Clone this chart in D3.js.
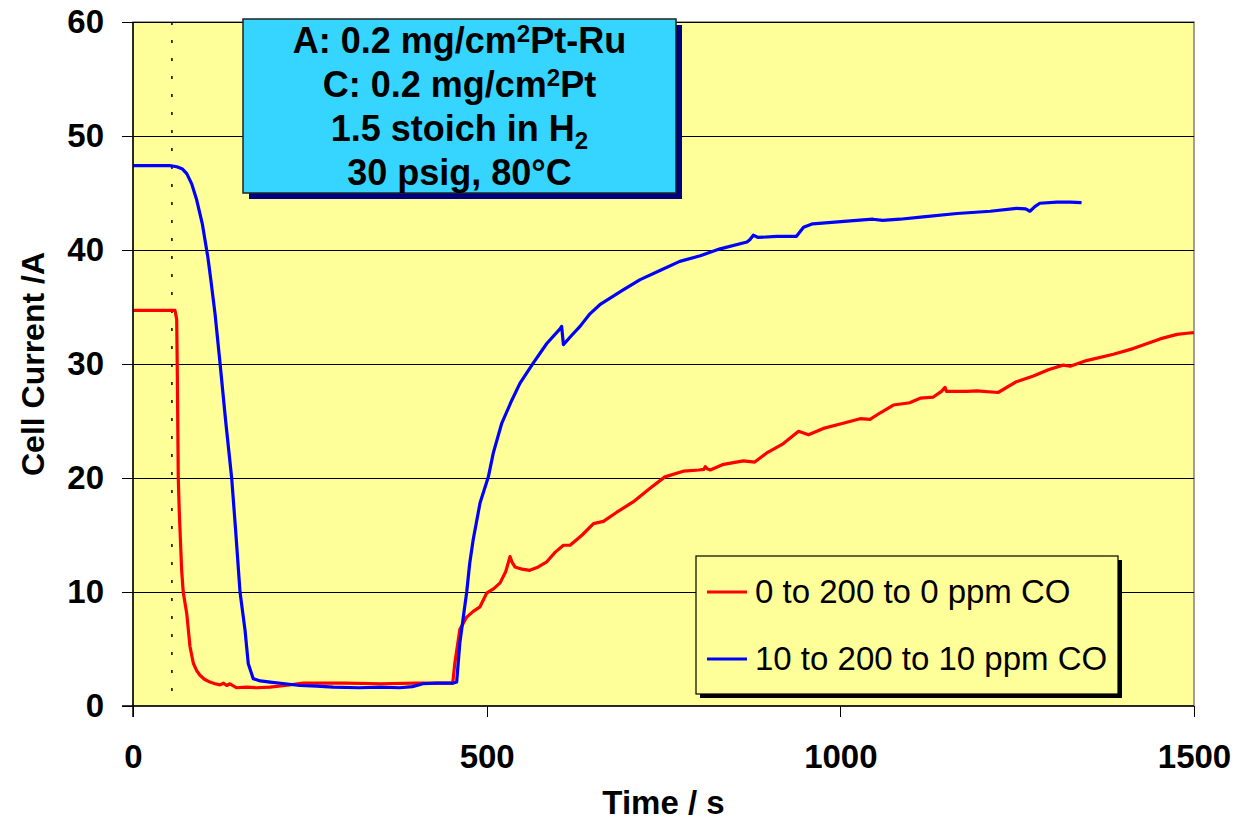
<!DOCTYPE html>
<html>
<head>
<meta charset="utf-8">
<script src="https://cdn.jsdelivr.net/npm/d3@7"></script>
<style>
  body { margin: 0; background: #ffffff; }
  svg { display: block; font-family: "Liberation Sans", Arial, sans-serif; }
</style>
</head>
<body>
<div id="chart"></div>
<script>
const ANCHO = 1235;
const ALTO = 824;

// [time s, current A]
const serieRoja = [
    [0, 34.7], [59.4, 34.7], [61.8, 33.9], [62.5, 30.1], [64, 20.0], [65.5, 16.9], [68.8, 11.9],
    [71, 10.0], [76, 8.1], [80.6, 5.2], [85.3, 3.75], [90, 3.1], [94.7, 2.7], [101, 2.35],
    [108.9, 2.1], [116, 1.95], [123, 1.85], [128, 2.0], [132.5, 1.8], [137, 1.95], [146.6, 1.6],
    [160, 1.65], [175, 1.6], [193.7, 1.65], [215, 1.8], [240.8, 2.0], [300, 2.0], [350, 1.95],
    [400, 2.0], [452, 2.0], [455, 3.75], [462, 6.7], [471.8, 7.8], [481, 8.3], [490.6, 8.7],
    [500, 9.9], [510, 10.3], [519, 10.8], [527, 11.8], [533, 13.1], [536, 12.6], [540, 12.2],
    [550, 12.0], [561, 11.9], [573, 12.2], [585, 12.65], [597, 13.5], [608.5, 14.1], [618, 14.1],
    [635, 15.0], [651, 16.0], [665, 16.2], [684, 17.0], [707, 17.9], [731, 19.1], [752, 20.1],
    [778, 20.6], [800, 20.7], [807, 20.75], [809, 21.0], [812, 20.8], [816, 20.7], [835, 21.2],
    [863, 21.5], [879, 21.4], [896, 22.2], [919, 23.0], [941, 24.1], [955, 23.8], [976, 24.35],
    [1004, 24.8], [1028, 25.2], [1042, 25.15], [1056, 25.7], [1075, 26.4], [1098, 26.6],
    [1113, 27.0], [1131.5, 27.1], [1143, 27.6], [1148, 27.95], [1150, 27.6], [1179, 27.6],
    [1193, 27.65], [1223, 27.5], [1249, 28.45], [1273, 28.95], [1294, 29.5], [1315, 29.9],
    [1325, 29.8], [1348, 30.3], [1386, 30.85], [1414, 31.35], [1452, 32.2], [1476, 32.6],
    [1490, 32.7], [1500, 32.75]
];

const serieAzul = [
    [0, 47.4], [52, 47.4], [62, 47.3], [70, 47.1], [76, 46.7], [83, 45.8], [90, 44.4],
    [98, 42.3], [106, 39.3], [110, 37.4], [116, 34.4], [123, 30.1], [131, 25.0], [139.5, 20.0],
    [145, 15.5], [151.3, 10.0], [158.3, 6.7], [163, 3.7], [170, 2.4], [180, 2.2], [194, 2.1],
    [215, 1.95], [236, 1.8], [260, 1.75], [283, 1.65], [320, 1.6], [350, 1.65], [377, 1.6],
    [395, 1.7], [410, 1.95], [430, 2.0], [452, 2.0], [457.6, 2.1], [462, 5.5], [467, 7.8],
    [471.8, 10.0], [476, 12.5], [481, 14.6], [490.6, 17.8], [502.4, 20.1], [509.4, 22.2],
    [521.3, 24.8], [535.4, 26.8], [547, 28.3], [566, 30.1], [585, 31.8], [604, 33.1],
    [606, 33.3], [608.5, 31.7], [620, 32.5], [632, 33.3], [646, 34.4], [660, 35.2], [693, 36.5],
    [717, 37.4], [745, 38.2], [773, 39.0], [802, 39.5], [830, 40.1], [868, 40.7], [872, 40.9],
    [877, 41.3], [884, 41.1], [910, 41.2], [938, 41.2], [943, 41.6], [948, 42.0], [961, 42.3],
    [1023, 42.6], [1046, 42.7], [1060, 42.6], [1084, 42.7], [1117, 42.9], [1165, 43.2],
    [1212, 43.4], [1249, 43.65], [1262, 43.6], [1268, 43.4], [1275, 43.8], [1282, 44.1],
    [1306, 44.2], [1325, 44.2], [1341, 44.15]
];

const ticksX = [0, 500, 1000, 1500];
const ticksY = [0, 10, 20, 30, 40, 50, 60];
const tiempoCambioCO = 55;
const leyenda = ["0 to 200 to 0 ppm CO", "10 to 200 to 10 ppm CO"];
const coloresSerie = ["#ff0000", "#0000ff"];

const IZQ = 133, DER = 1194, ARRIBA = 22, ABAJO = 706;

const x = d3.scaleLinear().domain([0, 1500]).range([IZQ, DER]);
const y = d3.scaleLinear().domain([0, 60]).range([ABAJO, ARRIBA]);

const $svg = d3.select("#chart")
    .append("svg")
    .attr("width", ANCHO)
    .attr("height", ALTO);

// fondo del area de trazado
$svg.append("rect")
    .attr("x", IZQ).attr("y", ARRIBA)
    .attr("width", DER - IZQ).attr("height", ABAJO - ARRIBA)
    .attr("fill", "#ffff99")
    .attr("stroke", "#808080")
    .attr("stroke-width", 1.5);

// lineas de cuadricula
$svg.append("g")
    .selectAll("line")
    .data(ticksY.filter(d => d > 0))
    .join("line")
    .attr("x1", IZQ).attr("x2", DER)
    .attr("y1", d => y(d)).attr("y2", d => y(d))
    .attr("stroke", "#000")
    .attr("stroke-width", 1)
    .attr("shape-rendering", "crispEdges");

// linea punteada del cambio de CO
$svg.append("line")
    .attr("x1", x(tiempoCambioCO)).attr("x2", x(tiempoCambioCO))
    .attr("y1", ARRIBA).attr("y2", ABAJO)
    .attr("stroke", "#000")
    .attr("stroke-width", 1.5)
    .attr("stroke-dasharray", "3 15");

$svg.append("clipPath").attr("id", "recorte")
    .append("rect")
    .attr("x", IZQ).attr("y", ARRIBA - 5)
    .attr("width", DER - IZQ).attr("height", ABAJO - ARRIBA + 5);

const linea = d3.line().x(d => x(d[0])).y(d => y(d[1]));

[serieRoja, serieAzul].forEach((serie, i) => {
    $svg.append("path")
        .datum(serie)
        .attr("clip-path", "url(#recorte)")
        .attr("fill", "none")
        .attr("stroke", coloresSerie[i])
        .attr("stroke-width", 3.2)
        .attr("stroke-linejoin", "round")
        .attr("d", linea);
});

// ejes
const ejeY = $svg.append("g")
    .attr("transform", `translate(${IZQ},0)`)
    .call(d3.axisLeft(y).tickValues(ticksY).tickSize(11).tickPadding(18));
const ejeX = $svg.append("g")
    .attr("transform", `translate(0,${ABAJO})`)
    .call(d3.axisBottom(x).tickValues(ticksX).tickFormat(d3.format("d")).tickSize(11).tickPadding(28));

[ejeX, ejeY].forEach(eje => {
    eje.select(".domain").remove();
    eje.selectAll(".tick line")
        .attr("stroke", "#000")
        .attr("stroke-width", 1)
        .attr("shape-rendering", "crispEdges");
    eje.selectAll("text")
        .attr("font-family", "'Liberation Sans', Arial, sans-serif")
        .attr("font-size", 33)
        .attr("font-weight", "bold")
        .attr("fill", "#000");
});

$svg.append("line")
    .attr("x1", IZQ).attr("x2", IZQ)
    .attr("y1", ARRIBA).attr("y2", ABAJO + 11)
    .attr("stroke", "#000").attr("stroke-width", 1.5);
$svg.append("line")
    .attr("x1", IZQ - 11).attr("x2", DER)
    .attr("y1", ABAJO).attr("y2", ABAJO)
    .attr("stroke", "#000").attr("stroke-width", 1.5);

// titulos de ejes
$svg.append("text")
    .attr("x", (IZQ + DER) / 2)
    .attr("y", 814)
    .attr("text-anchor", "middle")
    .attr("font-size", 33)
    .attr("font-weight", "bold")
    .text("Time / s");

$svg.append("text")
    .attr("transform", `translate(44,${(ARRIBA + ABAJO) / 2}) rotate(-90)`)
    .attr("text-anchor", "middle")
    .attr("font-size", 32)
    .attr("font-weight", "bold")
    .text("Cell Current /A");

// caja de condiciones
const caja = $svg.append("g");
caja.append("rect")
    .attr("x", 249).attr("y", 25)
    .attr("width", 433).attr("height", 174)
    .attr("fill", "#000080");
caja.append("rect")
    .attr("x", 243).attr("y", 19)
    .attr("width", 433).attr("height", 174)
    .attr("fill", "#35d5ff")
    .attr("stroke", "#222")
    .attr("stroke-width", 1.5);

const centroCaja = 243 + 433 / 2;
const lineasCaja = [
    [{t: "A: 0.2 mg/cm"}, {t: "2", sup: true}, {t: "Pt-Ru"}],
    [{t: "C: 0.2 mg/cm"}, {t: "2", sup: true}, {t: "Pt"}],
    [{t: "1.5 stoich in H"}, {t: "2", sub: true}],
    [{t: "30 psig, 80°C"}]
];
const baseLineas = [53, 97, 141, 185];
lineasCaja.forEach((partes, i) => {
    const txt = caja.append("text")
        .attr("x", centroCaja)
        .attr("y", baseLineas[i])
        .attr("text-anchor", "middle")
        .attr("font-size", 36)
        .attr("font-weight", "bold");
    partes.forEach(p => {
        const ts = txt.append("tspan").text(p.t);
        if (p.sup) ts.attr("font-size", 24).attr("baseline-shift", "11");
        if (p.sub) ts.attr("font-size", 24).attr("baseline-shift", "-8");
    });
});

// leyenda
const gLeyenda = $svg.append("g");
gLeyenda.append("rect")
    .attr("x", 700).attr("y", 560)
    .attr("width", 422).attr("height", 138)
    .attr("fill", "#000");
gLeyenda.append("rect")
    .attr("x", 696).attr("y", 556)
    .attr("width", 422).attr("height", 138)
    .attr("fill", "#ffff99")
    .attr("stroke", "#000")
    .attr("stroke-width", 1.2);

leyenda.forEach((nombre, i) => {
    const cy = 592 + i * 67;
    gLeyenda.append("line")
        .attr("x1", 707).attr("x2", 747)
        .attr("y1", cy).attr("y2", cy)
        .attr("stroke", coloresSerie[i])
        .attr("stroke-width", 3);
    gLeyenda.append("text")
        .attr("x", 755)
        .attr("y", cy + 11)
        .attr("font-size", 33)
        .text(nombre);
});
</script>
</body>
</html>
